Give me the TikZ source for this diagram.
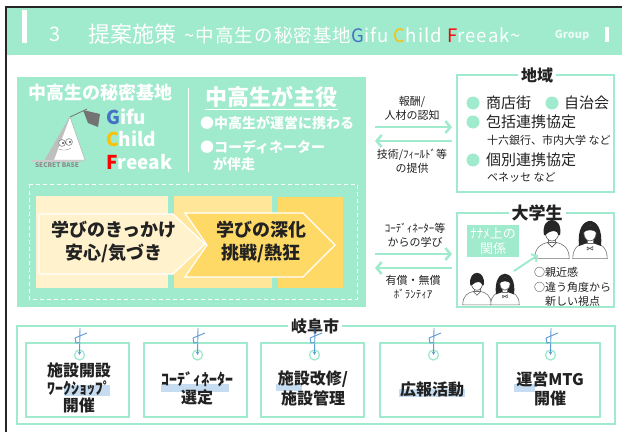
\documentclass[tikz,border=0pt]{standalone}
\usepackage{fontspec}
\setmainfont{Noto Sans CJK JP}
\usetikzlibrary{arrows.meta,calc}
\definecolor{mint}{RGB}{160,234,206}
\definecolor{gblue}{RGB}{68,114,196}
\definecolor{cyel}{RGB}{255,192,0}
\definecolor{fred}{RGB}{255,0,0}
\definecolor{bandA}{RGB}{255,242,204}
\definecolor{bandB}{RGB}{255,230,153}
\definecolor{bandC}{RGB}{255,217,102}
\definecolor{pinblue}{RGB}{91,155,213}
\definecolor{hilite}{RGB}{189,215,238}
\definecolor{ink}{RGB}{34,34,34}
\newcommand\fsz[2]{\fontsize{#1}{#2}\selectfont}
\tikzset{
  boxtitle/.style={fill=white, inner sep=3pt, text=ink, font=\bfseries\fsz{16}{18}},
  groupbox/.style={draw=mint, line width=2pt, fill=white},
  cardbox/.style={draw=mint, line width=1.5pt},
  flow/.style={draw=mint, line width=2.5pt, -{Straight Barb[length=5pt,width=12pt]}},
  flowtext/.style={text=ink, align=center, font=\fsz{11}{14}},
  cardtext/.style={text=ink, align=center, font=\bfseries\fsz{16}{18}},
  pinline/.style={draw=pinblue, line width=0.9pt},
  pinring/.style={draw=mint, line width=1.3pt, fill=white},
  boy/.pic={
    \draw[black!55, fill=white, line width=0.6pt] (-15,24) .. controls (-15,14) and (-9,11) .. (-4,10) -- (4,10) .. controls (9,11) and (15,14) .. (15,24) -- cycle;
    \draw[black!55, fill=white, line width=0.5pt] (-3,5) rectangle (3,10);
    \draw[black!65, line width=0.6pt] (-4,10) -- (0,14) -- (4,10);
    \draw[black!65, fill=white, line width=0.6pt] (0,1.5) ellipse (5.8 and 7.2);
    \fill[black!85] (-7,3.5) .. controls (-10,-14) and (10,-14) .. (7,3.5) -- (5.6,3.5) .. controls (5,-1) and (-1,-1.5) .. (-5.6,3.5) -- cycle;
  },
  girl/.pic={
    \draw[black!55, fill=white, line width=0.6pt] (-15,24) .. controls (-15,14) and (-9,11) .. (-4,10) -- (4,10) .. controls (9,11) and (15,14) .. (15,24) -- cycle;
    \fill[black!85] (-9.5,13) .. controls (-13,-16) and (13,-16) .. (9.5,13) -- (4,11) -- (-4,11) -- cycle;
    \draw[black!55, fill=white, line width=0.5pt] (-2.5,5) rectangle (2.5,11);
    \draw[black!65, fill=white, line width=0.6pt] (0,2) ellipse (5.3 and 6.6);
    \fill[black!85] (-6,1.5) .. controls (-5,-7) and (5,-7) .. (6,1.5) .. controls (3,-1.5) and (-3,-1.5) .. (-6,1.5) -- cycle;
    \draw[black!65, line width=0.6pt] (-2.5,14) -- (2.5,16.5) -- (2.5,13.5) -- (-2.5,16.5) -- cycle;
  }
}
\begin{document}
\begin{tikzpicture}[x=1pt,y=-1pt, every node/.style={inner sep=0pt}]
\useasboundingbox (0,0) rectangle (622,432);
\fill[white] (0,0) rectangle (622,432);

% frame and header band
\draw[black!85, line width=1.6pt] (6,432) -- (6,7) -- (622,7);
\fill[mint] (7,8) rectangle (622,55);
\fill[white] (22,10) rectangle (27,43);
\fill[white] (605,27) rectangle (609,42);
\node[anchor=west, text=white, font=\fsz{20}{24}] (num) at (49,34) {3};
\node[anchor=west, text=white, font=\fsz{22}{26}] (head) at (88,34) {提案施策};
\node[anchor=west, text=white, font=\fsz{18.5}{21}\addfontfeature{LetterSpace=6}] (sub) at (184,35) {\textasciitilde 中高生の秘密基地\textcolor{gblue}{G}ifu \textcolor{cyel}{C}hild \textcolor{fred}{F}reeak\textasciitilde};
\node[text=white!80!mint, font=\bfseries\fsz{11}{13}] (grp) at (572,35) {Group};

% concept panel
\fill[mint] (17,77) rectangle (366,307);
\node[text=white, font=\bfseries\fsz{18}{20}] (base) at (100,93) {中高生の秘密基地};
\draw[white, line width=1pt] (188,88) -- (188,172);
\node[text=white, font=\bfseries\fsz{22}{24}] (lead) at (271,97) {中高生が主役};
\draw[white, line width=1pt] (205,109) -- (338,109);
\node[anchor=west, text=white, font=\bfseries\fsz{14}{16}] (p1) at (200,123) {●中高生が運営に携わる};
\node[anchor=west, text=white, font=\bfseries\fsz{14}{16}] (p2) at (200,147) {●コーディネーター};
\node[anchor=west, text=white, font=\bfseries\fsz{14}{16}] (p3) at (213,164) {が伴走};
\node[anchor=west, text=white, font=\bfseries\fsz{19}{21}] (gifu) at (106,117) {\textcolor{gblue}{G}ifu};
\node[anchor=west, text=white, font=\bfseries\fsz{19}{21}] (child) at (106,139) {\textcolor{cyel}{C}hild};
\node[anchor=west, text=white, font=\bfseries\fsz{19}{21}] (freeak) at (106,162) {\textcolor{fred}{F}reeak};

% secret base logo
\draw[black!55, line width=0.8pt] (70,117) -- (87,109);
\fill[black!55] (83,110) -- (100,114) -- (98,127) -- (88,123) -- cycle;
\draw[black!30, fill=white, line width=0.5pt] (70,117) -- (45,160) -- (85,160) -- cycle;
\fill[black!25] (70,117) -- (45,160) -- (54,160) -- cycle;
\draw[black!60, fill=white, line width=0.5pt] (62,143) circle (3.4) (69,142) circle (3.4);
\fill[black!70] (63,143) circle (1.1) (70,142) circle (1.1);
\draw[black!45, line width=0.4pt] (59,149) .. controls (63,151) and (68,150) .. (71,148);
\fill[black!20] (32,160) rectangle (82,162);
\node[text=black!45, font=\bfseries\fsz{6.5}{7}] (sb) at (57,165) {SECRET BASE};

% learning stages
\draw[white, line width=0.8pt, dash pattern=on 4pt off 3pt] (29,184) rectangle (357,299);
\fill[bandA] (36,196) rectangle (168,288);
\fill[bandB] (174,196) rectangle (272,288);
\fill[bandC] (278,197) rectangle (343,288);
\draw[white, line width=1.2pt, fill=bandA] (39,214) -- (173,214) -- (205,244) -- (173,274) -- (39,274) -- cycle;
\draw[white, line width=1.2pt, fill=bandC] (185,213) -- (303,213) -- (335,245) -- (303,277) -- (185,277) -- (207,245) -- cycle;
\node[text=ink, align=center, font=\bfseries\fsz{18}{23}] (s1) at (114,242) {学びのきっかけ\\安心/気づき};
\node[text=ink, align=center, font=\bfseries\fsz{18}{23}] (s2) at (261,242) {学びの深化\\挑戦/熱狂};

% region box
\draw[groupbox] (457,75) rectangle (614,192);
\node[boxtitle] (region) at (537,75) {地域};
\fill[mint] (473,103) circle (6.5);
\node[anchor=west, text=ink, font=\fsz{15}{17}] (r1) at (486,103) {商店街};
\fill[mint] (552,103) circle (6.5);
\node[anchor=west, text=ink, font=\fsz{15}{17}] (r2) at (564,103) {自治会};
\fill[mint] (473,122) circle (6.5);
\node[anchor=west, text=ink, font=\fsz{15}{17}] (r3) at (486,122) {包括連携協定};
\node[anchor=west, text=ink, font=\fsz{11}{13}] (r3b) at (487,140) {十六銀行、市内大学 など};
\fill[mint] (473,160) circle (6.5);
\node[anchor=west, text=ink, font=\fsz{15}{17}] (r4) at (486,160) {個別連携協定};
\node[anchor=west, text=ink, font=\fsz{11}{13}] (r4b) at (487,177) {ベネッセ など};

% flows between panel and region
\coordinate (fa1) at (375,127);
\coordinate (fa2) at (452,127);
\coordinate (fb1) at (452,141);
\coordinate (fb2) at (375,141);
\draw[flow] (fa1) -- (fa2);
\draw[flow] (fb1) -- (fb2);
\node[flowtext] (fat) at (412,108) {報酬/\\人材の認知};
\node[flowtext] (fbt) at (412,161) {技術/ﾌｨｰﾙﾄﾞ等\\の提供};

% university students box
\draw[groupbox] (457,213) rectangle (614,307);
\node[boxtitle, font=\bfseries\fsz{17}{19}] (univ) at (537,213) {大学生};
\node[fill=mint, text=white, align=center, minimum width=52pt, minimum height=32pt, font=\fsz{13}{15}] (diag) at (493,241) {ﾅﾅﾒ上の\\関係};
\pic at (552,231) [scale=1.15] {boy};
\pic at (590,231) [scale=1.15] {girl};
\pic at (477,282) [scale=0.95] {boy};
\pic at (505,282) [scale=0.95] {girl};
\coordinate (up1) at (514,271);
\coordinate (up2) at (538,255);
\draw[draw=mint, line width=2pt, -{Straight Barb[length=4pt,width=9pt]}] (up1) -- (up2);
\node[anchor=west, text=ink, font=\fsz{11}{13}] (u1) at (534,272) {○親近感};
\node[anchor=west, text=ink, font=\fsz{11}{13}] (u2) at (534,287) {○違う角度から};
\node[anchor=west, text=ink, font=\fsz{11}{13}] (u3) at (545,301) {新しい視点};

% flows between panel and students
\coordinate (fc1) at (375,254);
\coordinate (fc2) at (452,254);
\coordinate (fd1) at (452,268);
\coordinate (fd2) at (375,268);
\draw[flow] (fc1) -- (fc2);
\draw[flow] (fd1) -- (fd2);
\node[flowtext] (fct) at (415,235) {ｺｰﾃﾞｨﾈｰﾀｰ等\\からの学び};
\node[flowtext] (fdt) at (413,287) {有償・無償\\ﾎﾞﾗﾝﾃｨｱ};

% city section
\draw[draw=mint, line width=2.5pt, fill=white] (17,326) rectangle (615,424);
\node[boxtitle] (city) at (315,326) {岐阜市};
\foreach \l/\r [count=\i] in {26/129, 144/247, 261/364, 380/483, 497/600}{
  \draw[cardbox] (\l,343) rectangle (\r,417);
  \coordinate (top\i) at ({(\l+\r)/2+2.5},328);
  \coordinate (ring\i) at ({(\l+\r)/2+2},355);
  \draw[pinline] ($(ring\i)+(-4.5,-17)$) -- ($(ring\i)+(7.5,-22)$);
  \draw[pinline] ($(ring\i)+(-4.5,-17)$) -- ($(ring\i)+(-3.5,-12)$) -- ($(ring\i)+(-0.5,-12.5)$);
  \node[pinring, circle, minimum size=10pt] (pin\i) at (ring\i) {};
  \draw[pinline, -{Stealth[length=3.5pt,width=3.5pt]}] (top\i) -- (pin\i.center);
}
% marker highlights
\fill[hilite, opacity=0.85] (64,385) rectangle (110,396);
\fill[hilite, opacity=0.85] (161,384) rectangle (229,392);
\fill[hilite, opacity=0.85] (276,384) rectangle (302,391);
\fill[hilite, opacity=0.85] (399,389) rectangle (465,397);
\fill[hilite, opacity=0.85] (514,384) rectangle (535,392);
\node[cardtext, align=center, font=\bfseries\fsz{16}{17.5}] (c1) at (79,388) {施設開設\\ﾜｰｸｼｮｯﾌﾟ\\開催};
\node[cardtext, font=\bfseries\fsz{16}{18}] (c2) at (197,388) {ｺｰﾃﾞｨﾈｰﾀｰ\\選定};
\node[cardtext, font=\bfseries\fsz{16}{20}] (c3) at (313,388) {施設改修/\\施設管理};
\node[cardtext] (c4) at (432,389) {広報活動};
\node[cardtext, font=\bfseries\fsz{16}{19}] (c5) at (550,389) {運営MTG\\開催};
\end{tikzpicture}
\end{document}
